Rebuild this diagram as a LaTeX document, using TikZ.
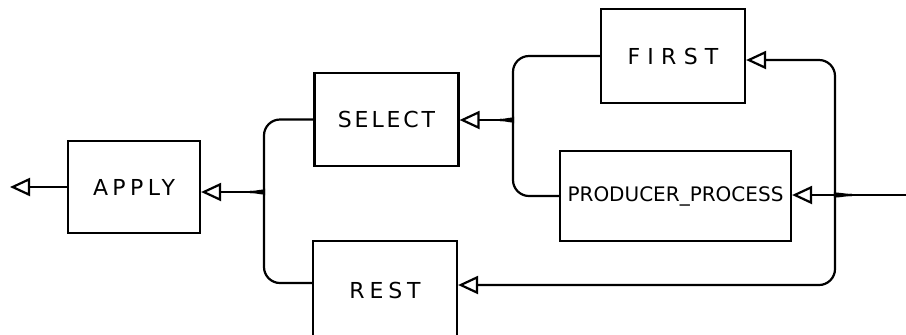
\documentclass[tikz,border=0pt]{standalone}
\usepackage{fontspec}
\usepackage{tikz}
\usetikzlibrary{arrows.meta}
\newfontfamily\handfont{DejaVu Sans}

\begin{document}
\begin{tikzpicture}[x=0.5pt, y=-0.5pt, line width=1.1pt, >={Triangle[open,length=10pt,width=9pt]},
	blockbox/.style={draw, minimum width=72pt, minimum height=46.5pt, inner sep=0pt},
	lspace/.style={font=\handfont\fontsize{11}{13}\selectfont\addfontfeature{LetterSpace=#1}},
	wire/.style={rounded corners=8pt}]
	\clip (0,0) rectangle (906,334);
	% the five blocks
	\node[blockbox, lspace=20, minimum width=66pt, minimum height=46pt] (apply) at (134,187) {APPLY};
	\node[blockbox, lspace=13] (select) at (386.5,119.5) {SELECT};
	\node[blockbox, lspace=33, minimum height=47pt] (first) at (673,56) {FIRST};
	\node[blockbox, minimum width=115.5pt, minimum height=45pt, font=\handfont\fontsize{10}{12}\selectfont] (producer) at (675.5,196) {PRODUCER\_PROCESS};
	\node[blockbox, lspace=22, minimum height=49pt] (rest) at (385,290) {REST};
	% brace points, input and output ends
	\coordinate (b1) at (250,192);
	\coordinate (b2) at (500,120);
	\coordinate (b3) at (852,195);
	\coordinate (out) at (10,187);
	\coordinate (in) at (906,195);
	\draw[->] (apply.west) -- (out);
	\draw[->] (b1) -- (b1 -| apply.east);
	\draw[wire] (b1) .. controls (259,192) and (264,189) .. (264,176) |- (select.west);
	\draw[wire] (b1) .. controls (259,192) and (264,195) .. (264,208) |- ([yshift=3.5pt]rest.west);
	\draw[->] (b2) -- (b2 -| select.east);
	\draw[wire] (b2) .. controls (508,120) and (513,117) .. (513,104) |- (first.west);
	\draw[wire] (b2) .. controls (508,120) and (513,123) .. (513,136) |- (producer.west);
	\draw (in) -- (b3);
	\draw[->] (b3) -- (b3 -| producer.east);
	\draw[wire, ->] (b3) .. controls (842,195) and (835,192) .. (835,179) |- ([yshift=-2pt]first.east);
	\draw[wire, ->] (b3) .. controls (842,195) and (835,198) .. (835,211) |- ([yshift=2.5pt]rest.east);
\end{tikzpicture}
\end{document}
